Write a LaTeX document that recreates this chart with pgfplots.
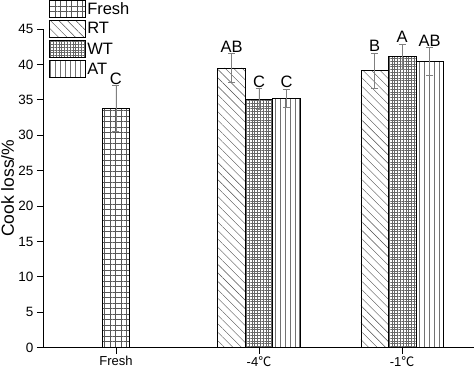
\documentclass[border=0pt]{standalone}
\usepackage{pgfplots}
\pgfplotsset{compat=1.18}
\usepackage{fontspec}
\setmainfont{Liberation Sans}
\newfontfamily\cjk{Noto Sans CJK SC}
\usetikzlibrary{patterns.meta,calc}
\begin{document}
\begin{tikzpicture}
\pgfplotsset{
  mybar/.style={ybar, bar shift=0pt, bar width=0.192, draw=black, line width=0.6pt,
    legend image code/.code={\draw[##1, line width=0.6pt] (0pt,-8.5pt) rectangle (36pt,8.5pt);},
    error bars/y dir=both, error bars/y explicit,
    error bars/error bar style={gray, line width=0.6pt},
    error bars/error mark options={rotate=90, mark size=3.5pt, gray, line width=0.6pt}},
}
\begin{axis}[
  name=ax, scale only axis, width=431pt, height=319pt,
  xmin=-0.51, xmax=2.5, ymin=0, ymax=45,
  axis x line=bottom, axis y line=left,
  axis line style={-, line width=0.8pt},
  xtick={0,1,2}, xticklabels={Fresh,{-4{\cjk ℃}},{-1{\cjk ℃}}},
  ytick={0,5,...,45},
  tick align=outside, major tick length=6pt,
  tick style={black, line width=0.8pt},
  ylabel={Cook loss/\%},
  ylabel shift=-2.5pt,
  ylabel style={font=\fontsize{17.5}{17.5}\selectfont},
  yticklabel style={font=\fontsize{13.5}{13.5}\selectfont},
  xticklabel style={font=\fontsize{13}{13}\selectfont, yshift=1pt},
  /pgf/number format/assume math mode=true,
  clip=false,
  legend style={draw=none, fill=none, at={(rel axis cs:0.014,1.091)}, anchor=north west,
    font=\fontsize{16.5}{16.5}\selectfont, row sep=2.5pt, inner sep=0pt,
    nodes={inner sep=1.5pt}},
  legend cell align=left,
]
\addplot[mybar, pattern={Hatch[angle=0, distance=5.5pt, line width=0.4pt]}, pattern color=black!65]
  coordinates {(0,33.8) +- (0,3.2)};
\addlegendentry{Fresh}
\addplot[mybar, pattern={Lines[angle=-45, distance=6pt, line width=0.4pt]}, pattern color=black!70]
  coordinates {(0.808,39.5) +- (0,2.0) (1.808,39.1) +- (0,2.5)};
\addlegendentry{RT}
\addplot[mybar, pattern={Hatch[angle=0, distance=2.8pt, line width=0.3pt]}, pattern color=black!60]
  coordinates {(1,35.1) +- (0,1.5) (2,41.1) +- (0,1.8)};
\addlegendentry{WT}
\addplot[mybar, pattern={Lines[angle=90, distance=5pt, line width=0.5pt]}, pattern color=black!55]
  coordinates {(1.192,35.2) +- (0,1.3) (2.192,40.4) +- (0,2.0)};
\addlegendentry{AT}
\begin{scope}[every node/.style={anchor=south, inner sep=1pt, font=\fontsize{16.5}{16.5}\selectfont}]
\node at (axis cs:0,37.0) {C};
\node at (axis cs:0.808,41.5) {AB};
\node at (axis cs:1,36.6) {C};
\node at (axis cs:1.192,36.5) {C};
\node at (axis cs:1.808,41.6) {B};
\node at (axis cs:2,42.9) {A};
\node at (axis cs:2.192,42.4) {AB};
\end{scope}
\end{axis}
\pgfresetboundingbox
\path ($(ax.south west)+(-43pt,-21pt)$) rectangle ($(ax.north east)+(0.4pt,29pt)$);
\end{tikzpicture}
\end{document}
